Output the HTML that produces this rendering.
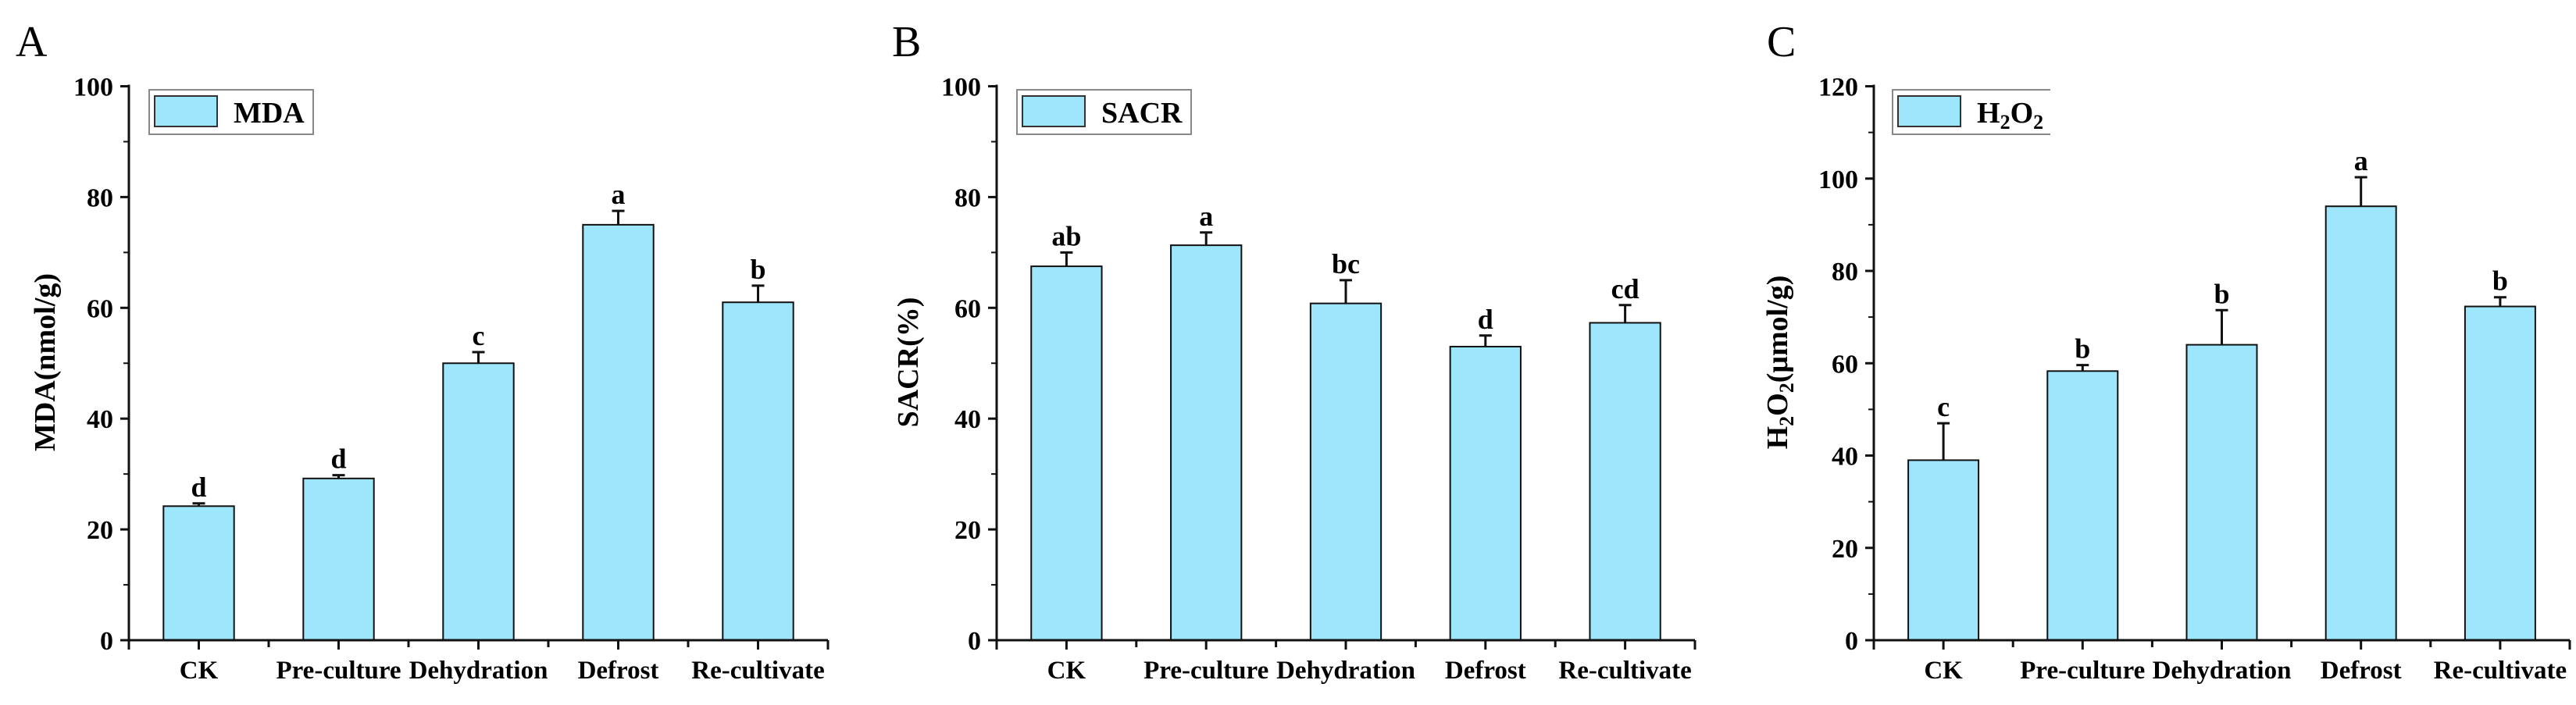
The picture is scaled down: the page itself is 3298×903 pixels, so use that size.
<!DOCTYPE html>
<html><head><meta charset="utf-8"><style>
html,body{margin:0;padding:0;background:#fff;}
svg text{font-family:"Liberation Serif",serif;}
</style></head><body>
<svg id="fig" width="3298" height="898" viewBox="0 0 3298 898" xmlns="http://www.w3.org/2000/svg"></svg>
<script>
const categories = ["CK","Pre-culture","Dehydration","Defrost","Re-cultivate"];
const mdaValues = [24.2, 29.2, 50, 75, 61];
const mdaErrors = [0.5, 0.6, 2, 2.5, 3];
const mdaLetters = ["d","d","c","a","b"];
const sacrValues = [67.5, 71.3, 60.8, 53, 57.3];
const sacrErrors = [2.5, 2.3, 4.2, 2, 3.2];
const sacrLetters = ["ab","a","bc","d","cd"];
const h2o2Values = [39, 58.3, 64, 94, 72.3];
const h2o2Errors = [8, 1.3, 7.5, 6.3, 2];
const h2o2Letters = ["c","b","b","a","b"];
const mdaTicks = [0,20,40,60,80,100];
const sacrTicks = [0,20,40,60,80,100];
const h2o2Ticks = [0,20,40,60,80,100,120];

const NS = "http://www.w3.org/2000/svg";
const svg = document.getElementById("fig");
function mk(tag, attrs, parent){
  const e = document.createElementNS(NS, tag);
  for (const k in attrs) e.setAttribute(k, attrs[k]);
  (parent||svg).appendChild(e);
  return e;
}

function panel(p){
  const g = mk("g", {});
  
  
  const x0 = p.x0, x1 = p.x1, yb = 820, yt = 110.5;
  const ymax = p.ticks[p.ticks.length-1];
  const yS = v => yb - (v/ymax)*(yb-yt);
  const step = (x1 - x0) / categories.length;
  const xS = i => x0 + step*(i+0.5);
  const bw = step*0.505;

  const lt = mk("text", {x:p.lx, y:72, "font-size":56}, g);
  lt.textContent = p.letter;
  
  

  // bars
  categories.forEach((c,i)=>{
    const v = p.values[i], e = p.errors[i], cx = xS(i);
    const r = mk("rect", {x:cx-bw/2, y:yS(v), width:bw, height:yb-yS(v), fill:"#9de6fb", stroke:"#111", "stroke-width":2}, g);
    
    
    const el = mk("path", {d:`M${cx},${yS(v)} V${yS(v+e)} M${cx-8},${yS(v+e)} H${cx+8}`, stroke:"#111", "stroke-width":3, fill:"none"}, g);
    
    
    const t = mk("text", {x:cx, y:yS(v+e)-9, "font-size":36, "font-weight":"bold", "text-anchor":"middle"}, g);
    t.textContent = p.letters[i];
    
    
    const xl = mk("text", {x:cx, y:869, "font-size":33, "font-weight":"bold", "text-anchor":"middle"}, g);
    xl.textContent = c;
    
    
    mk("line", {x1:cx, y1:yb, x2:cx, y2:yb+12, stroke:"#111", "stroke-width":3}, g);
    if (i < categories.length-1) mk("line", {x1:x0+step*(i+1), y1:yb, x2:x0+step*(i+1), y2:yb+9, stroke:"#111", "stroke-width":3}, g);
  });

  // axes
  const ax = mk("path", {d:`M${x0},${yt-2} V${yb} H${x1}`, stroke:"#111", "stroke-width":3, fill:"none"}, g);
  
  
  mk("line", {x1:x0, y1:yb, x2:x0, y2:yb+12, stroke:"#111", "stroke-width":3}, g);
  mk("line", {x1:x1, y1:yb, x2:x1, y2:yb+12, stroke:"#111", "stroke-width":3}, g);
  p.ticks.forEach((t,k)=>{
    const y = yS(t);
    mk("line", {x1:x0-11, y1:y, x2:x0, y2:y, stroke:"#111", "stroke-width":3}, g);
    if (k < p.ticks.length-1){
      const ym = yS((t + p.ticks[k+1])/2);
      mk("line", {x1:x0-7, y1:ym, x2:x0, y2:ym, stroke:"#111", "stroke-width":2}, g);
    }
    const tl = mk("text", {x:x0-20, y:y+12, "font-size":34, "font-weight":"bold", "text-anchor":"end"}, g);
    tl.textContent = t;
    
    
  });

  // y title
  const yt2 = mk("text", {x:0, y:0, "font-size":38, "font-weight":"bold", "text-anchor":"middle", transform:`translate(${p.yx+13},464) rotate(-90)`}, g);
  yt2.innerHTML = p.ytitle;
  
  

  // legend
  const lg = mk("g", {}, g);
  
  
  if (p.legendOpen){
    mk("path", {d:`M${p.lg[2]},${115} H${p.lg[0]} V172 H${p.lg[2]}`, stroke:"#888", "stroke-width":2, fill:"#fff"}, lg);
    mk("path", {d:`M${p.lg[2]},${115} H${p.lg[0]} V180 H${p.lg[2]}`, stroke:"#888", "stroke-width":2, fill:"#fff", opacity:0}, lg);
  } else {
    mk("rect", {x:p.lg[0], y:115, width:p.lg[2]-p.lg[0], height:57, stroke:"#888", "stroke-width":2, fill:"#fff"}, lg);
  }
  const sw = mk("rect", {x:p.lg[0]+7, y:123, width:80, height:39, fill:"#9de6fb", stroke:"#333", "stroke-width":2}, lg);
  
  
  const lt2 = mk("text", {x:p.lg[0]+108, y:157, "font-size":38, "font-weight":"bold"}, lg);
  lt2.innerHTML = p.legendText;
  
  
}

panel({id:"mda", letter:"A", lx:20, x0:165, x1:1060, yx:57, ticks:mdaTicks, values:mdaValues, errors:mdaErrors, letters:mdaLetters, ytitle:"MDA(nmol/g)", lg:[191,0,401], legendText:"MDA"});
panel({id:"sacr", letter:"B", lx:1142, x0:1276, x1:2170, yx:1162, ticks:sacrTicks, values:sacrValues, errors:sacrErrors, letters:sacrLetters, ytitle:"SACR(%)", lg:[1302,0,1525], legendText:"SACR"});
panel({id:"h2o2", letter:"C", lx:2262, x0:2399, x1:3290, yx:2275, ticks:h2o2Ticks, values:h2o2Values, errors:h2o2Errors, letters:h2o2Letters, ytitle:'H<tspan font-size="26" dy="8">2</tspan><tspan dy="-8">O</tspan><tspan font-size="26" dy="8">2</tspan><tspan dy="-8">(μmol/g)</tspan>', lg:[2423,0,2625], legendOpen:true, legendText:'H<tspan font-size="26" dy="8">2</tspan><tspan dy="-8">O</tspan><tspan font-size="26" dy="8">2</tspan>'});
</script>
</body></html>
